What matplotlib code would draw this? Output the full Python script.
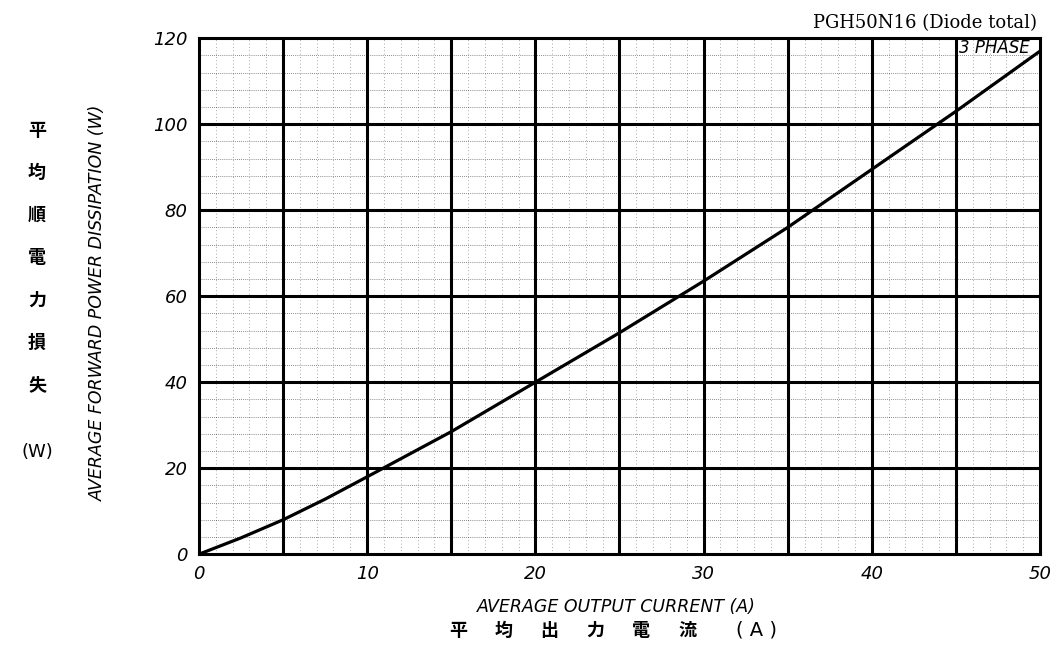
import matplotlib
matplotlib.use("Agg")
import matplotlib.pyplot as plt
import numpy as np

# curve (A, W)
current = [0, 2.5, 5, 7.5, 10, 15, 20, 25, 30, 35, 40, 45, 50]
power = [0, 3.8, 8, 12.8, 18, 28.5, 40, 51.5, 63.5, 76, 89.5, 103, 117]

x_ticks = [0, 10, 20, 30, 40, 50]
y_ticks = [0, 20, 40, 60, 80, 100, 120]
jp_ylabel = ["平", "均", "順", "電", "力", "損", "失"]
jp_xlabel = ["平", "均", "出", "力", "電", "流"]

fig = plt.figure(figsize=(10.58, 6.59), dpi=100)
ax = fig.add_axes([0.188, 0.159, 0.795, 0.783])

ax.set_xlim(0, 50)
ax.set_ylim(0, 120)

# minor dotted grid
for xv in np.arange(1, 50, 1):
    if xv % 5:
        ax.axvline(xv, color="black", lw=0.6, ls=(0, (1, 3)), alpha=0.45, zorder=1)
for yv in np.arange(4, 120, 4):
    if yv % 20:
        ax.axhline(yv, color="black", lw=0.6, ls=(0, (1, 1.5)), alpha=0.6, zorder=1)
# major thick grid
for xv in np.arange(5, 50, 5):
    ax.axvline(xv, color="black", lw=2.2, zorder=2)
for yv in np.arange(20, 120, 20):
    ax.axhline(yv, color="black", lw=2.2, zorder=2)

ax.plot(current, power, color="black", lw=2.3, zorder=3)

for s in ax.spines.values():
    s.set_linewidth(2.2)

tick_font = dict(family="DejaVu Sans", style="italic", size=13)
ax.set_xticks(x_ticks)
ax.set_yticks(y_ticks)
ax.set_xticklabels([str(v) for v in x_ticks], **tick_font)
ax.set_yticklabels([str(v) for v in y_ticks], **tick_font)
ax.tick_params(length=0, pad=8)

ax.text(0.946, 0.998, "3 PHASE", transform=ax.transAxes, ha="center", va="top",
        style="italic", size=12, family="DejaVu Sans", zorder=4)

fig.text(0.98, 0.965, "PGH50N16 (Diode total)", ha="right", va="center",
         family="DejaVu Serif", size=13)

fig.text(0.093, 0.54, "AVERAGE FORWARD POWER DISSIPATION (W)", rotation=90,
         ha="center", va="center", style="italic", size=12.5, family="DejaVu Sans")
fig.text(616 / 1058, 1 - 607 / 659, "AVERAGE OUTPUT CURRENT (A)", ha="center",
         va="center", style="italic", size=12.5, family="DejaVu Sans")

jp = ["Noto Sans CJK JP", "DejaVu Sans"]
for i, ch in enumerate(jp_xlabel):
    fig.text((458 + i * 45.8) / 1058, 1 - 630 / 659, ch, ha="center", va="center",
             size=13, weight="bold", family=jp)
fig.text(757 / 1058, 1 - 630 / 659, "( A )", ha="center", va="center",
         size=14, family="DejaVu Sans")

for i, ch in enumerate(jp_ylabel):
    fig.text(0.035, 1 - (130 + i * 42.5) / 659, ch, ha="center", va="center",
             size=13, weight="bold", family=jp)
fig.text(0.035, 1 - 452 / 659, "(W)", ha="center", va="center", size=13,
         family="DejaVu Sans")

fig.savefig("out.png", dpi=100)
